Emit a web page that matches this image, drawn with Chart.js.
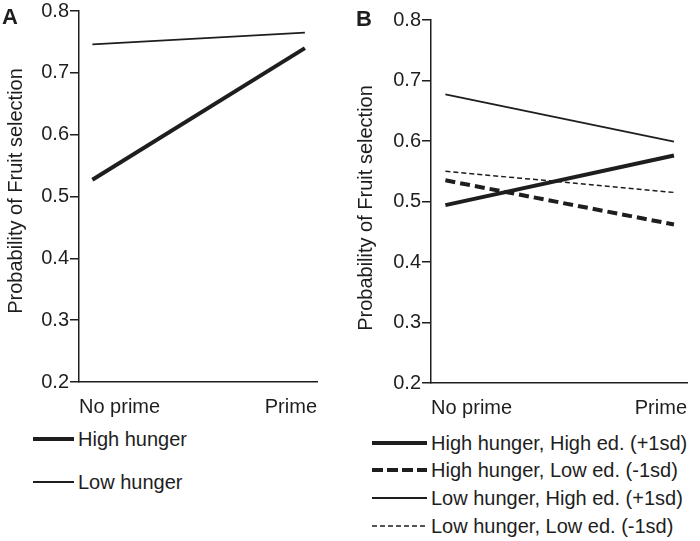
<!DOCTYPE html>
<html>
<head>
<meta charset="utf-8">
<script src="https://cdn.jsdelivr.net/npm/chart.js@4.4.1/dist/chart.umd.min.js"></script>
<style>
  body { margin: 0; background: #fff; font-family: "Liberation Sans", Arial, sans-serif; color: #1e1e1e; }
  #wrap { position: relative; width: 700px; height: 541px; overflow: hidden; }
  canvas { position: absolute; top: 0; }
  .panel { position: absolute; font-weight: bold; font-size: 22px; line-height: 22px; }
  .leg { position: absolute; font-size: 20px; height: 24px; line-height: 24px; display: flex; align-items: center; white-space: nowrap; }
  .leg svg { margin-right: 4px; }
</style>
</head>
<body>
<div id="wrap">
  <canvas id="chartA" width="330" height="420" style="left:0"></canvas>
  <canvas id="chartB" width="350" height="420" style="left:350px"></canvas>
  <div class="panel" style="left:2px;top:6px">A</div>
  <div class="panel" style="left:356px;top:8px">B</div>
  <div id="legA"></div>
  <div id="legB"></div>
</div>
<script>
// categories and values
const xLabels = ['No prime', 'Prime'];
const yTitle = 'Probability of Fruit selection';

// panel A
const highHunger = [0.527, 0.740];
const lowHunger = [0.746, 0.765];

// panel B
const hhHighEd = [0.494, 0.576];
const hhLowEd = [0.535, 0.462];
const lhHighEd = [0.677, 0.599];
const lhLowEd = [0.550, 0.515];

const ink = '#1e1e1e';
const font = { family: '"Liberation Sans", Arial, sans-serif', size: 20 };

function pts(vals) {
    return vals.map((v, i) => ({ x: i, y: v }));
}

function line(label, vals, width, dash) {
    return {
        label: label,
        data: pts(vals),
        borderColor: ink,
        borderWidth: width,
        borderDash: dash || [],
        pointRadius: 0,
        tension: 0,
        fill: false
    };
}

// rotated y title, placed a little off the axis centre like the original
const yTitlePlugin = {
    id: 'yTitle',
    afterDraw(chart, args, opts) {
        const ctx = chart.ctx;
        ctx.save();
        ctx.translate(opts.x, opts.y);
        ctx.rotate(-Math.PI / 2);
        ctx.font = font.size + 'px ' + font.family;
        ctx.fillStyle = ink;
        ctx.textAlign = 'center';
        ctx.textBaseline = 'middle';
        ctx.fillText(yTitle, 0, 0);
        ctx.restore();
    }
};

function makeChart(id, datasets, yWidth, xHeight, pad, titleY) {
    return new Chart(document.getElementById(id), {
        type: 'line',
        data: { datasets: datasets },
        plugins: [yTitlePlugin],
        options: {
            responsive: false,
            animation: false,
            layout: { padding: pad },
            plugins: {
                legend: { display: false },
                tooltip: { enabled: false },
                yTitle: { x: 16, y: titleY }
            },
            scales: {
                x: {
                    type: 'linear',
                    min: -0.063,
                    max: 1.057,
                    afterBuildTicks: s => { s.ticks = [{ value: s.min }, { value: s.max }]; },
                    afterFit: s => { s.height = xHeight; },
                    ticks: {
                        align: 'inner', padding: 13, maxRotation: 0, autoSkip: false,
                        color: ink, font: font,
                        callback: (v, i) => xLabels[i]
                    },
                    grid: { drawOnChartArea: false, drawTicks: false },
                    border: { color: ink, width: 1.5 }
                },
                y: {
                    min: 0.2,
                    max: 0.8,
                    afterFit: s => { s.width = yWidth; },
                    ticks: {
                        stepSize: 0.1, padding: 1, color: ink,
                        font: Object.assign({ lineHeight: 1 }, font),
                        callback: v => v.toFixed(1)
                    },
                    grid: { drawOnChartArea: false, drawTicks: true, tickLength: 9, color: ink, lineWidth: 1.5 },
                    border: { color: ink, width: 1.5 }
                }
            }
        }
    });
}

makeChart('chartA', [
    line('High hunger', highHunger, 4),
    line('Low hunger', lowHunger, 1.8)
], 79, 38, { top: 11, right: 11, left: 0, bottom: 0 }, 191);

makeChart('chartB', [
    line('High hunger, High ed. (+1sd)', hhHighEd, 4),
    line('High hunger, Low ed. (-1sd)', hhLowEd, 4, [10, 5]),
    line('Low hunger, High ed. (+1sd)', lhHighEd, 1.8),
    line('Low hunger, Low ed. (-1sd)', lhLowEd, 1.5, [5, 3])
], 81, 37, { top: 20, right: 0, left: 0, bottom: 0 }, 208);

// HTML legends below each panel
function legend(el, rows, left, sw) {
    const host = document.getElementById(el);
    rows.forEach(r => {
        const d = document.createElement('div');
        d.className = 'leg';
        d.style.left = left + 'px';
        d.style.top = (r.y - 12) + 'px';
        d.innerHTML = '<svg width="' + sw + '" height="8"><line x1="0" y1="4" x2="' + sw +
            '" y2="4" stroke="' + ink + '" stroke-width="' + r.w + '" stroke-dasharray="' + (r.dash || 'none') +
            '"/></svg><span>' + r.text + '</span>';
        host.appendChild(d);
    });
}

legend('legA', [
    { text: 'High hunger', w: 4, y: 439 },
    { text: 'Low hunger', w: 1.8, y: 482 }
], 33, 41);

legend('legB', [
    { text: 'High hunger, High ed. (+1sd)', w: 4, y: 443 },
    { text: 'High hunger, Low ed. (-1sd)', w: 4, dash: '11 4', y: 470 },
    { text: 'Low hunger, High ed. (+1sd)', w: 1.8, y: 498 },
    { text: 'Low hunger, Low ed. (-1sd)', w: 1.5, dash: '5 3', y: 526 }
], 372, 55);
</script>
</body>
</html>
